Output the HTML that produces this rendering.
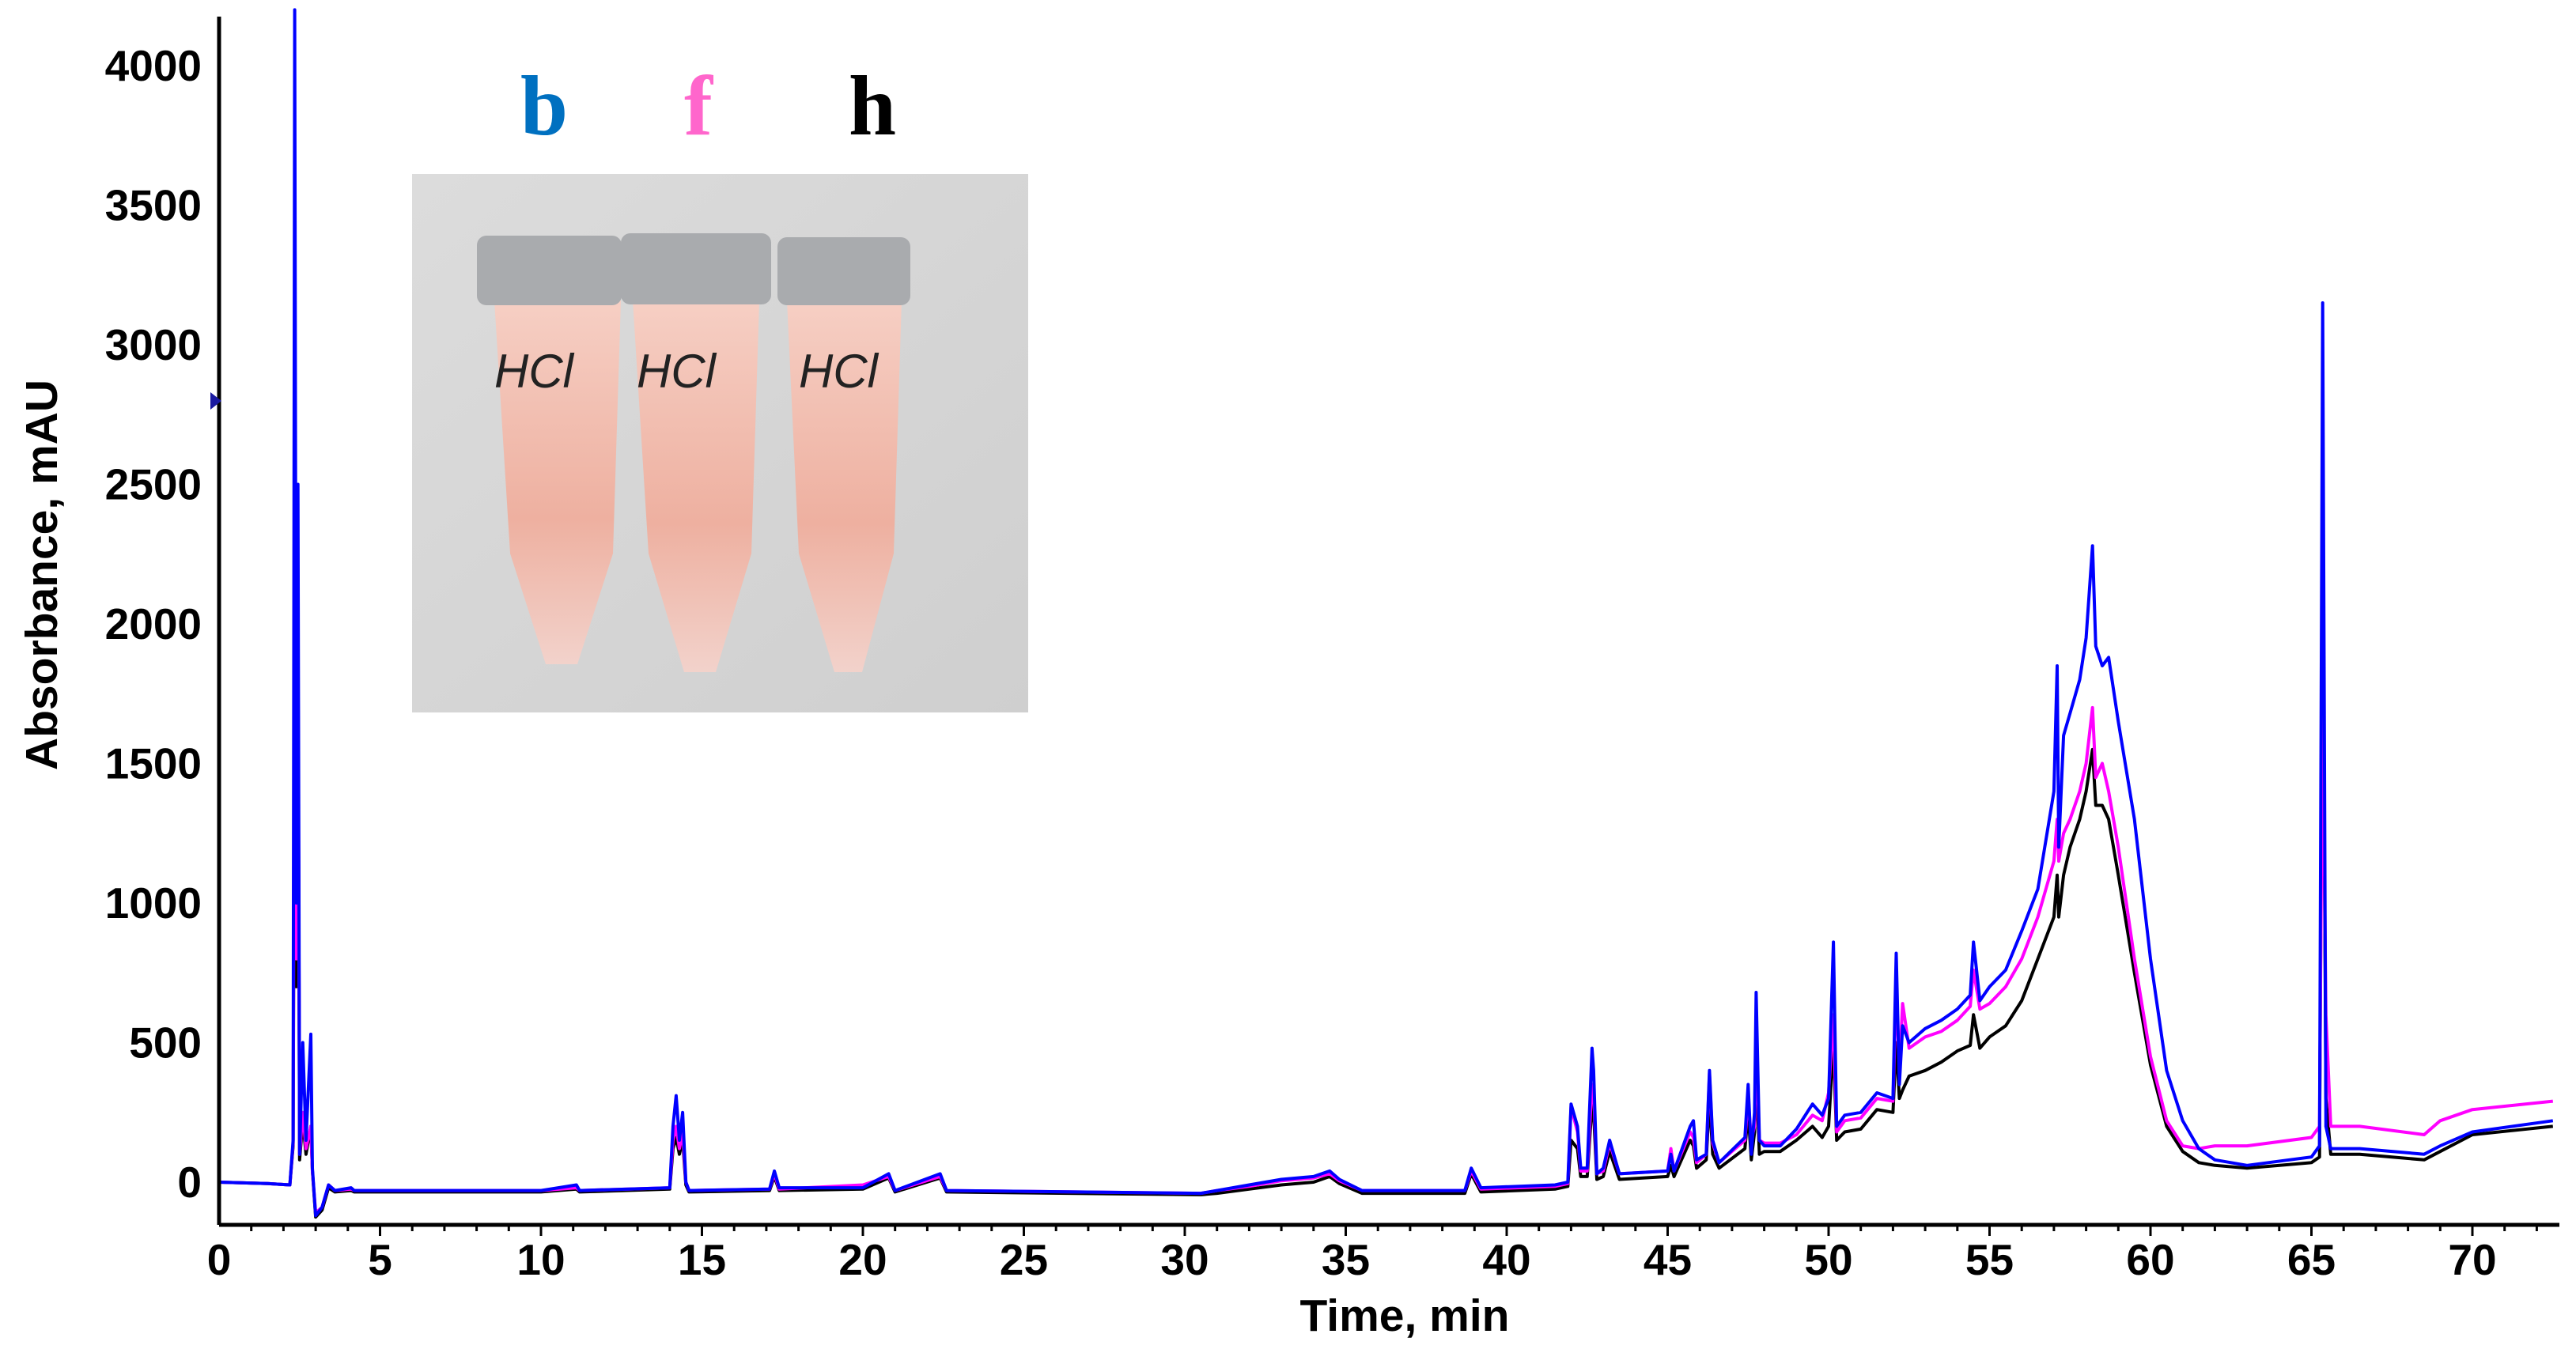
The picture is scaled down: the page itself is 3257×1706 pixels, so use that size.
<!DOCTYPE html>
<html><head><meta charset="utf-8"><style>
html,body{margin:0;padding:0;background:#fff;}
svg{display:block;}
text{font-family:"Liberation Sans",sans-serif;}
</style></head><body>
<svg id="chart" width="3257" height="1706" viewBox="0 0 3257 1706" xmlns="http://www.w3.org/2000/svg">
<rect width="3257" height="1706" fill="#fff"/>
<g id="photo">
  <defs>
    <linearGradient id="bg" x1="0" y1="0" x2="1" y2="1"><stop offset="0" stop-color="#dcdcdc"/><stop offset="1" stop-color="#cfcfcf"/></linearGradient>
    <linearGradient id="tube" x1="0" y1="0" x2="0" y2="1"><stop offset="0" stop-color="#f6cfc4"/><stop offset="0.6" stop-color="#eeb0a0"/><stop offset="1" stop-color="#f2d2cb"/></linearGradient>
  </defs>
  <rect x="521" y="220" width="779" height="681" fill="url(#bg)"/>
  <g>
    <path d="M625 380 L785 380 L775 700 L730 840 L690 840 L645 700 Z" fill="url(#tube)"/>
    <rect x="603" y="298" width="183" height="88" rx="12" fill="#a9abae"/>
  </g>
  <g>
    <path d="M800 380 L960 380 L950 700 L905 850 L865 850 L820 700 Z" fill="url(#tube)"/>
    <rect x="785" y="295" width="190" height="90" rx="12" fill="#a9abae"/>
  </g>
  <g>
    <path d="M995 380 L1140 380 L1130 700 L1090 850 L1055 850 L1010 700 Z" fill="url(#tube)"/>
    <rect x="983" y="300" width="168" height="86" rx="12" fill="#a9abae"/>
  </g>
  <text x="625" y="490" font-size="60" fill="#222" font-style="italic">HCl</text>
  <text x="805" y="490" font-size="60" fill="#222" font-style="italic">HCl</text>
  <text x="1010" y="490" font-size="60" fill="#222" font-style="italic">HCl</text>
</g>
<text x="688" y="170" font-size="108" font-weight="bold" fill="#0070C0" text-anchor="middle" style="font-family:'Liberation Serif',serif">b</text>
<text x="883" y="170" font-size="108" font-weight="bold" fill="#FF66CC" text-anchor="middle" style="font-family:'Liberation Serif',serif">f</text>
<text x="1103" y="170" font-size="108" font-weight="bold" fill="#000" text-anchor="middle" style="font-family:'Liberation Serif',serif">h</text>
<g id="plot"></g>
</svg>
<script>
const times = [0,1.5,2.2,2.3,2.35,2.4,2.45,2.5,2.6,2.7,2.85,2.9,3.0,3.2,3.4,3.6,4.1,4.2,10,11.1,11.2,14,14.1,14.2,14.3,14.4,14.5,14.6,17.1,17.25,17.4,20,20.8,21,22.4,22.6,30.5,31,32,33,34,34.5,34.8,35.5,38.7,38.9,39.2,41.5,41.9,42,42.2,42.3,42.5,42.65,42.7,42.8,43.0,43.2,43.5,45,45.1,45.2,45.7,45.8,45.9,46.2,46.3,46.4,46.6,47.4,47.5,47.6,47.7,47.75,47.85,48,48.5,49,49.5,49.8,50,50.15,50.25,50.5,51,51.5,52,52.1,52.2,52.3,52.5,53,53.5,54,54.4,54.5,54.7,55,55.5,56,56.5,57,57.1,57.15,57.3,57.5,57.8,58,58.2,58.3,58.5,58.7,59,59.5,60,60.5,61,61.5,62,63,65,65.25,65.35,65.45,65.6,66.5,68.5,69,70,72.5];
const seriesB = [0,-5,-10,150,4200,1000,2500,100,500,150,530,50,-120,-90,-10,-30,-20,-30,-30,-10,-30,-20,200,310,150,250,0,-30,-25,40,-20,-20,30,-30,30,-30,-40,-30,-10,10,20,40,10,-30,-30,50,-20,-10,0,280,200,50,50,480,400,30,50,150,30,40,100,40,200,220,80,100,400,150,70,160,350,100,250,680,150,130,130,190,280,240,300,860,200,240,250,320,300,820,350,560,500,550,580,620,670,860,650,700,760,900,1050,1400,1850,1200,1600,1680,1800,1950,2280,1920,1850,1880,1650,1300,800,400,220,120,80,60,90,130,3150,200,120,120,100,130,180,220];
const seriesF = [0,-5,-10,140,2350,800,2000,100,250,120,200,40,-110,-90,-10,-30,-25,-30,-30,-20,-30,-20,150,200,120,180,0,-30,-25,30,-25,-10,20,-30,20,-30,-40,-30,-15,5,15,30,5,-30,-30,40,-25,-15,-5,270,180,40,40,350,330,30,40,140,30,40,120,40,180,160,70,100,390,140,70,150,300,150,200,500,150,140,140,170,240,220,320,600,180,220,230,300,290,700,400,640,480,520,540,580,630,760,620,640,700,800,950,1150,1300,1150,1250,1300,1400,1500,1700,1450,1500,1400,1200,800,450,220,130,120,130,130,160,200,1750,600,200,200,170,220,260,290];
const seriesH = [0,-5,-10,130,1950,700,1900,80,220,100,200,40,-125,-100,-20,-35,-30,-35,-35,-25,-35,-25,120,160,100,150,-10,-35,-30,20,-30,-25,15,-35,15,-35,-45,-40,-25,-10,0,20,-5,-40,-40,30,-35,-25,-15,150,120,20,20,280,250,10,20,110,10,20,60,20,150,130,50,80,300,100,50,120,250,80,180,400,100,110,110,150,200,160,200,500,150,180,190,260,250,500,300,330,380,400,430,470,490,600,480,520,560,650,800,950,1100,950,1100,1200,1300,1400,1550,1350,1350,1300,1100,750,420,200,110,70,60,50,70,90,2180,300,100,100,80,110,170,200];
const xTicks = [0,5,10,15,20,25,30,35,40,45,50,55,60,65,70];
const yTicks = [0,500,1000,1500,2000,2500,3000,3500,4000];

const NS = "http://www.w3.org/2000/svg";
const X0 = 277, XPER = 40.7, Y0 = 1495, YPER = 0.353;
const xs = t => X0 + t * XPER;
const ys = v => Y0 - v * YPER;
const plot = document.getElementById('plot');
function mk(tag, attrs){const e=document.createElementNS(NS,tag);for(const k in attrs)e.setAttribute(k,attrs[k]);return e;}

const order = [[seriesH,'#000000','series-h'],[seriesF,'#ff00ff','series-f'],[seriesB,'#0000ff','series-b']];
order.forEach(([vals,color,name])=>{
  let d='';
  vals.forEach((v,i)=>{d+=(i?'L':'M')+xs(times[i]).toFixed(1)+' '+ys(v).toFixed(1)+' ';});
  const p = mk('path',{d:d,fill:'none',stroke:color,'stroke-width':4,'stroke-linejoin':'round'});
  
  
  plot.appendChild(p);
});

const axY = mk('line',{x1:X0,y1:21,x2:X0,y2:1549,stroke:'#000','stroke-width':5});


plot.appendChild(axY);
const axX = mk('line',{x1:X0,y1:1549,x2:3236,y2:1549,stroke:'#000','stroke-width':5});


plot.appendChild(axX);

for(let m=1;m<=72;m++){
  const major = m%5===0;
  const tk = mk('line',{x1:xs(m),y1:1549,x2:xs(m),y2:1549+(major?14:8),stroke:'#000','stroke-width':3});
  
  
  plot.appendChild(tk);
}
xTicks.forEach(t=>{
  const tx = mk('text',{x:xs(t),y:1612,'font-size':55,'font-weight':'bold','text-anchor':'middle',fill:'#000'});
  tx.textContent = t;
  
  
  plot.appendChild(tx);
});
yTicks.forEach(v=>{
  const tx = mk('text',{x:255,y:ys(v)+19,'font-size':55,'font-weight':'bold','text-anchor':'end',fill:'#000'});
  tx.textContent = v;
  
  
  plot.appendChild(tx);
});
const mark = mk('path',{d:'M266 496 L280 507 L266 518 Z',fill:'#1a1aa0'});


plot.appendChild(mark);

const xt = mk('text',{x:1776,y:1683,'font-size':57,'font-weight':'bold','text-anchor':'middle',fill:'#000'});
xt.textContent = 'Time, min';


plot.appendChild(xt);
const yt = mk('text',{x:0,y:0,'font-size':57,'font-weight':'bold','text-anchor':'middle',fill:'#000',transform:'translate(72,727) rotate(-90)'});
yt.textContent = 'Absorbance, mAU';


plot.appendChild(yt);
</script>
</body></html>
